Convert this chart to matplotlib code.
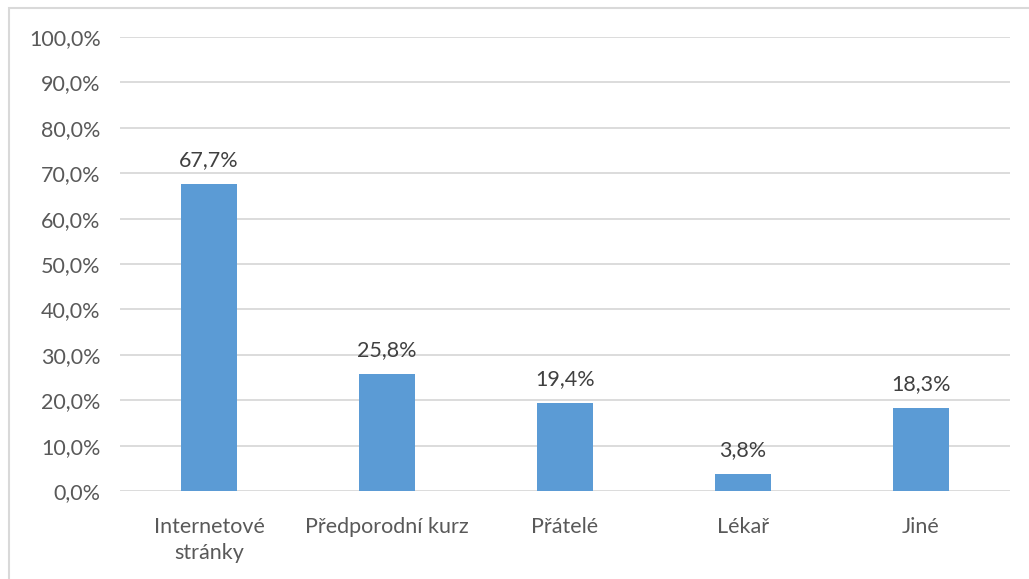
import matplotlib.pyplot as plt
from matplotlib.patches import Rectangle

categories = ["Internetové\nstránky", "Předporodní kurz", "Přátelé", "Lékař", "Jiné"]
values = [67.7, 25.8, 19.4, 3.8, 18.3]
yticks = [0, 10, 20, 30, 40, 50, 60, 70, 80, 90, 100]

plt.rcParams['font.family'] = ['Lato', 'DejaVu Sans']

fig = plt.figure(figsize=(10.29, 5.79), dpi=100)
ax = fig.add_axes([120 / 1029, 1 - 491 / 579, 890 / 1029, 454 / 579])

# chart frame (only left and top edges visible in the crop)
fig.patches.append(Rectangle((9 / 1029, -0.05), 1, 1.05 - 8 / 579, transform=fig.transFigure,
                             fill=False, edgecolor='#D9D9D9', linewidth=1.5))

x = range(len(categories))
bars = ax.bar(x, values, width=0.32, color='#5B9BD5', zorder=3)

for b, v in zip(bars, values):
    ax.text(b.get_x() + b.get_width() / 2, v + 3.0, f"{v:.1f}%".replace('.', ','),
            ha='center', va='bottom', fontsize=15.5, color='#404040')

ax.set_xlim(-0.5, len(categories) - 0.5)
ax.set_ylim(0, 100)
ax.set_yticks(yticks)
ax.set_yticklabels([f"{t:.1f}%".replace('.', ',') for t in yticks])
ax.set_xticks(list(x))
ax.set_xticklabels(categories, linespacing=1.35)
ax.tick_params(axis='both', length=0, labelsize=15.5, labelcolor='#595959')
ax.tick_params(axis='y', pad=14)
ax.tick_params(axis='x', pad=19)
ax.grid(axis='y', color='#D9D9D9', linewidth=1.3, zorder=0)
for s in ax.spines.values():
    s.set_visible(False)

fig.savefig("out.png", dpi=100)
